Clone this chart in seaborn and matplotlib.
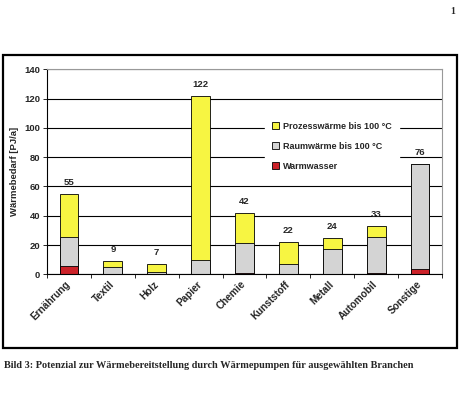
import matplotlib
matplotlib.use("Agg")
import matplotlib.pyplot as plt
import seaborn as sns
import pandas as pd
from matplotlib.patches import Rectangle, Patch

categories = ["Ernährung", "Textil", "Holz", "Papier", "Chemie",
              "Kunststoff", "Metall", "Automobil", "Sonstige"]
warmwasser = [6.0, 0.0, 0.0, 0.5, 1.0, 0.3, 0.3, 1.0, 3.4]
raumwaerme = [19.2, 5.2, 1.4, 9.1, 20.3, 7.0, 17.3, 24.2, 71.9]
prozesswaerme = [29.7, 3.7, 5.5, 112.4, 20.4, 14.5, 6.9, 7.5, 0.0]
total_labels = ["55", "9", "7", "122", "42", "22", "24", "33", "76"]
series_names = ["Prozesswärme bis 100 °C", "Raumwärme bis 100 °C", "Warmwasser"]
colors = {"Prozesswärme bis 100 °C": "#F7F542",
          "Raumwärme bis 100 °C": "#D4D4D4",
          "Warmwasser": "#CC2229"}

df = pd.DataFrame({"Branche": categories, "ww": warmwasser,
                   "rw": raumwaerme, "pw": prozesswaerme})
df["lvl1"] = df["ww"]
df["lvl2"] = df["ww"] + df["rw"]
df["lvl3"] = df["lvl2"] + df["pw"]

sns.set_style("white")
plt.rcParams["font.family"] = ["Liberation Sans", "DejaVu Sans"]
plt.rcParams["font.weight"] = "bold"

fig = plt.figure(figsize=(4.73, 3.94), dpi=100)
ax = fig.add_axes([47 / 473, 1 - 274.3 / 394, (442 - 47) / 473, (274.3 - 69.3) / 394])

W = 0.43
for col, name in [("lvl3", series_names[0]), ("lvl2", series_names[1]), ("lvl1", series_names[2])]:
    sns.barplot(data=df, x="Branche", y=col, color=colors[name], width=W,
                edgecolor="black", linewidth=0.6, saturation=1, ax=ax)

ax.set_ylim(0, 140)
ax.set_xlim(-0.5, 8.5)
ax.set_yticks(range(0, 141, 20))
ax.yaxis.grid(True, color="black", linewidth=0.8)
ax.set_axisbelow(True)
for s in ["top", "right"]:
    ax.spines[s].set_color("#999999")
    ax.spines[s].set_linewidth(0.8)
for s in ["left", "bottom"]:
    ax.spines[s].set_color("black")
    ax.spines[s].set_linewidth(0.8)

ax.set_xlabel("")
ax.set_ylabel("Wärmebedarf [PJ/a]", fontsize=6.8, fontweight="bold", labelpad=4)
ax.tick_params(axis="y", which="major", left=True, length=3, width=0.7,
               labelsize=6.8, pad=2, direction="out")
ax.tick_params(axis="x", which="major", bottom=False, length=0, labelsize=7.2, pad=6)
ax.set_xticks([i - 0.5 for i in range(10)], minor=True)
ax.tick_params(axis="x", which="minor", bottom=True, length=3, width=0.7, direction="out")
ax.set_xticks(range(len(categories)))
ax.set_xticklabels(categories, rotation=45, ha="right", va="center",
                   rotation_mode="anchor", fontweight="bold")
for t in ax.get_yticklabels():
    t.set_fontweight("bold")

for i, (tot, lab) in enumerate(zip(df["lvl3"], total_labels)):
    ax.annotate(lab, (i, tot), xytext=(0, 5), textcoords="offset points",
                ha="center", va="bottom", fontsize=6.8, fontweight="bold")

handles = [Patch(facecolor=colors[n], edgecolor="black", linewidth=0.6) for n in series_names]
leg = ax.legend(handles, series_names, loc="upper left",
                bbox_to_anchor=(0.54, 0.80), fontsize=6.5, frameon=True,
                facecolor="white", edgecolor="white", framealpha=1,
                handlelength=0.8, handleheight=0.8, handletextpad=0.4,
                labelspacing=1.2, borderpad=0.8, fancybox=False)
for t in leg.get_texts():
    t.set_fontweight("bold")

fig.patches.append(Rectangle((3 / 473, 1 - 348 / 394), (457 - 3) / 473, (348 - 55) / 394,
                             transform=fig.transFigure, fill=False,
                             edgecolor="black", linewidth=1.6))

fig.text(453 / 473, 1 - 12 / 394, "1", fontsize=7, fontweight="bold",
         family=["Liberation Serif", "DejaVu Serif"], ha="center", va="center")
fig.text(4 / 473, 1 - 366 / 394,
         "Bild 3: Potenzial zur Wärmebereitstellung durch Wärmepumpen für ausgewählten Branchen",
         fontsize=7.4, fontweight="bold", family=["Liberation Serif", "DejaVu Serif"],
         ha="left", va="center")

fig.savefig("out.png", dpi=100)
